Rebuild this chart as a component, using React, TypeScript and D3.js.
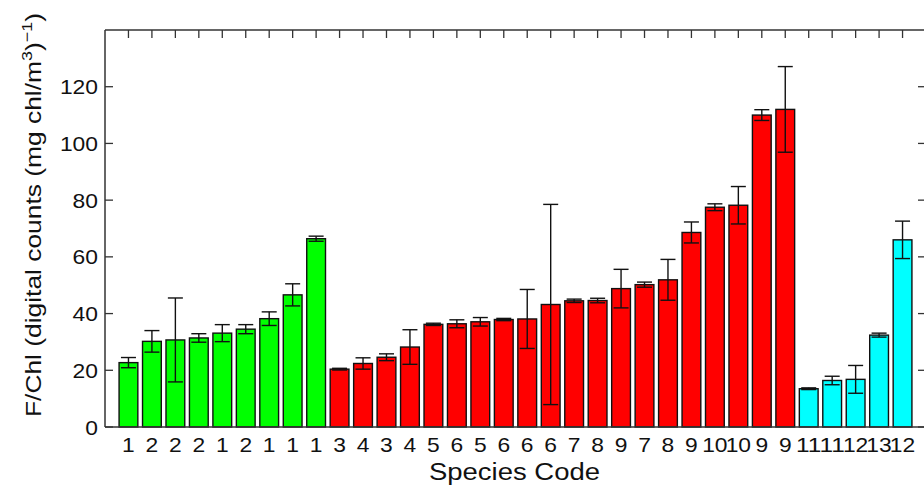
import React from 'react';
import * as d3 from 'd3';

// species code under each bar, left to right
const speciesCodes = [
  '1', '2', '2', '2', '1', '2', '1', '1', '1',
  '3', '4', '3', '4', '5', '6', '5', '6', '6', '6', '7', '8', '9', '7', '8', '9', '10', '10', '9', '9',
  '11', '11', '12', '13', '12',
];
// mean F/Chl per bar
const means = [
  22.7, 30.2, 30.7, 31.4, 33.1, 34.5, 38.2, 46.6, 66.4,
  20.4, 22.4, 24.6, 28.2, 36.2, 36.4, 37.1, 37.9, 38.1, 43.2, 44.5, 44.6, 48.8, 50.2, 51.9, 68.6, 77.5, 78.2, 110.0, 112.0,
  13.5, 16.4, 16.8, 32.4, 66.0,
];
// half-length of the error bars
const errors = [
  1.8, 3.8, 14.8, 1.5, 3.0, 1.6, 2.4, 3.9, 0.9,
  0.3, 2.0, 1.2, 6.1, 0.4, 1.4, 1.5, 0.4, 10.4, 35.3, 0.6, 0.8, 6.8, 0.9, 7.2, 3.7, 1.2, 6.6, 1.9, 15.1,
  0.3, 1.5, 4.9, 0.7, 6.6,
];
// colour group per bar
const groups = [
  ...Array(9).fill('g'),
  ...Array(20).fill('r'),
  ...Array(5).fill('c'),
];
const groupColor: Record<string, string> = { g: '#00ff00', r: '#ff0000', c: '#00ffff' };
const yTicks = [0, 20, 40, 60, 80, 100, 120];

const W = 924;
const H = 488;
const FONT = "'Liberation Sans', Arial, Helvetica, sans-serif";

export default function App() {
  const left = 105, right = 926, top = 30, bottom = 427;
  const x = d3.scaleLinear().domain([0, speciesCodes.length + 1]).range([left, right]);
  const y = d3.scaleLinear().domain([0, 140]).range([bottom, top]);
  const step = x(1) - x(0);
  const bw = step * 0.8;
  const cap = bw * 0.4;
  const tickLen = 8;
  const axisColor = '#333';

  const slots = speciesCodes.map((_, i) => i + 1);

  return (
    <svg width={W} height={H} style={{ position: 'absolute', left: 0, top: 0, background: '#fff' }}
      fontFamily={FONT}>
      {/* bottom ticks (under bars) */}
      {slots.map(s => (
        <line key={'bt' + s} x1={x(s)} x2={x(s)} y1={bottom} y2={bottom - tickLen} stroke={axisColor} strokeWidth={1.3} />
      ))}

      {/* bars */}
      {means.map((m, i) => (
        <rect key={'b' + i} x={x(i + 1) - bw / 2} y={y(m)} width={bw} height={y(0) - y(m)}
          fill={groupColor[groups[i]]} stroke="#111" strokeWidth={1.4} />
      ))}

      {/* error bars */}
      {means.map((m, i) => {
        const cx = x(i + 1);
        const hi = y(m + errors[i]);
        const lo = y(m - errors[i]);
        return (
          <g key={'e' + i} stroke="#111" strokeWidth={1.4}>
            <line x1={cx} x2={cx} y1={hi} y2={lo} />
            <line x1={cx - cap} x2={cx + cap} y1={hi} y2={hi} />
            <line x1={cx - cap} x2={cx + cap} y1={lo} y2={lo} />
          </g>
        );
      })}

      {/* axes box */}
      <g stroke={axisColor} strokeWidth={1.5} fill="none">
        <line x1={left} x2={right} y1={top} y2={top} />
        <line x1={left} x2={right} y1={bottom} y2={bottom} />
        <line x1={left} x2={left} y1={top} y2={bottom} />
        <line x1={right} x2={right} y1={top} y2={bottom} />
      </g>

      {/* top ticks */}
      {slots.map(s => (
        <line key={'tt' + s} x1={x(s)} x2={x(s)} y1={top} y2={top + tickLen} stroke={axisColor} strokeWidth={1.3} />
      ))}

      {/* y ticks both sides */}
      {yTicks.map(t => (
        <g key={'yt' + t} stroke={axisColor} strokeWidth={1.3}>
          <line x1={left} x2={left + tickLen} y1={y(t)} y2={y(t)} />
          <line x1={right} x2={right - tickLen} y1={y(t)} y2={y(t)} />
        </g>
      ))}
      {yTicks.map(t => (
        <text key={'yl' + t} x={left - 7} y={y(t)} dy="0.36em" textAnchor="end" fontSize={21} fill="#111"
          textLength={String(t).length * 12.7} lengthAdjust="spacingAndGlyphs">{t}</text>
      ))}

      {/* x tick labels */}
      {speciesCodes.map((c, i) => (
        <text key={'xl' + i} x={x(i + 1)} y={452} textAnchor="middle" fontSize={21} fill="#111"
          textLength={c.length * 12.7} lengthAdjust="spacingAndGlyphs">{c}</text>
      ))}

      <text x={(left + right) / 2 - 1} y={480} textAnchor="middle" fontSize={23} fill="#111"
        textLength={171} lengthAdjust="spacingAndGlyphs">Species Code</text>

      <text transform="translate(41,215) rotate(-90)" textAnchor="middle" fontSize={22} fill="#111"
        textLength={404} lengthAdjust="spacingAndGlyphs">
        F/Chl (digital counts (mg chl/m
        <tspan dy={-9} fontSize={15}>3</tspan>
        <tspan dy={9}>)</tspan>
        <tspan dy={-9} fontSize={15}>−1</tspan>
        <tspan dy={9}>)</tspan>
      </text>
    </svg>
  );
}
